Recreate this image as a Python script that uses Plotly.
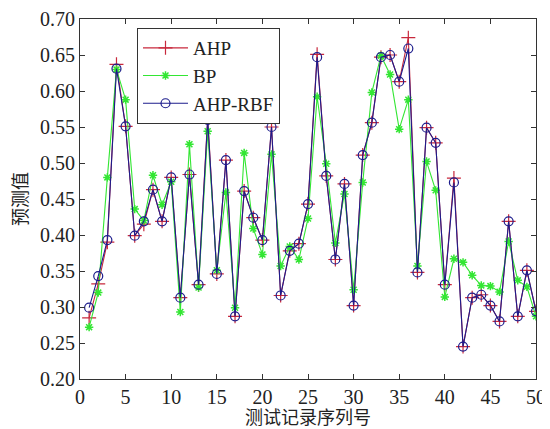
import plotly.graph_objects as go

# test record index
x_idx = list(range(1, 51))

ahp = [0.285, 0.332, 0.390, 0.637, 0.551, 0.399, 0.415, 0.463, 0.419, 0.480,
       0.313, 0.484, 0.331, 0.563, 0.346, 0.504, 0.287, 0.461, 0.424, 0.393,
       0.550, 0.316, 0.378, 0.388, 0.443, 0.651, 0.482, 0.366, 0.471, 0.302,
       0.511, 0.556, 0.647, 0.650, 0.613, 0.674, 0.348, 0.549, 0.528, 0.331,
       0.479, 0.245, 0.313, 0.317, 0.302, 0.280, 0.419, 0.287, 0.351, 0.294]

bp = [0.272, 0.320, 0.480, 0.630, 0.588, 0.436, 0.420, 0.483, 0.442, 0.474,
      0.293, 0.526, 0.327, 0.544, 0.351, 0.459, 0.299, 0.514, 0.409, 0.373,
      0.512, 0.357, 0.384, 0.366, 0.423, 0.592, 0.499, 0.389, 0.457, 0.324,
      0.473, 0.598, 0.649, 0.623, 0.547, 0.588, 0.357, 0.502, 0.462, 0.314,
      0.367, 0.362, 0.344, 0.330, 0.329, 0.321, 0.391, 0.337, 0.328, 0.287]

ahp_rbf = [0.299, 0.343, 0.393, 0.631, 0.551, 0.399, 0.419, 0.463, 0.419, 0.480,
           0.313, 0.484, 0.331, 0.560, 0.346, 0.504, 0.287, 0.461, 0.424, 0.393,
           0.550, 0.316, 0.378, 0.388, 0.443, 0.647, 0.482, 0.366, 0.471, 0.302,
           0.511, 0.556, 0.647, 0.650, 0.613, 0.659, 0.348, 0.549, 0.528, 0.331,
           0.473, 0.245, 0.313, 0.317, 0.302, 0.280, 0.419, 0.287, 0.351, 0.294]

serif = "'Liberation Serif', 'Times New Roman', 'Noto Sans CJK SC', serif"

fig = go.Figure()
fig.add_trace(go.Scatter(
    x=x_idx, y=ahp, name="AHP", mode="lines+markers",
    line=dict(color="#c8283c", width=1.1),
    marker=dict(symbol="cross-thin-open", size=10, color="#c8283c",
                line=dict(width=1.2, color="#c8283c"))))
fig.add_trace(go.Scatter(
    x=x_idx, y=bp, name="BP", mode="lines+markers",
    line=dict(color="#33e633", width=1.1),
    marker=dict(symbol="asterisk-open", size=7, color="#33e633",
                line=dict(width=1.5, color="#33e633"))))
fig.add_trace(go.Scatter(
    x=x_idx, y=ahp_rbf, name="AHP-RBF", mode="lines+markers",
    line=dict(color="#1c1c8c", width=1.1),
    marker=dict(symbol="circle-open", size=9, color="#1c1c8c",
                line=dict(width=1.2, color="#1c1c8c"))))

axis_common = dict(
    showgrid=False, zeroline=False, ticks="inside", ticklen=5,
    tickcolor="#333", linecolor="#333", linewidth=1, mirror="ticks",
    showline=True, automargin=False,
    tickfont=dict(family=serif, size=20, color="#222"),
)

fig.update_xaxes(range=[0, 50], dtick=5, **axis_common,
                 title=dict(text="测试记录序列号", standoff=0,
                            font=dict(family=serif, size=18, color="#222")))
fig.update_yaxes(range=[0.2, 0.7], dtick=0.05, tickformat=".2f", **axis_common,
                 title=dict(text="预测值", standoff=7,
                            font=dict(family=serif, size=18, color="#222")))

# page body adds an 8px offset, so the figure is 8px smaller than the window
fig.update_layout(
    width=542, height=421,
    margin=dict(l=72, r=14, t=11, b=50),
    plot_bgcolor="white", paper_bgcolor="white",
    legend=dict(x=0.125, y=0.975, xanchor="left", yanchor="top",
                bordercolor="#333", borderwidth=1, bgcolor="white",
                font=dict(family=serif, size=19, color="#222"),
                tracegroupgap=0, itemwidth=45),
)

fig.write_html("out.html")
